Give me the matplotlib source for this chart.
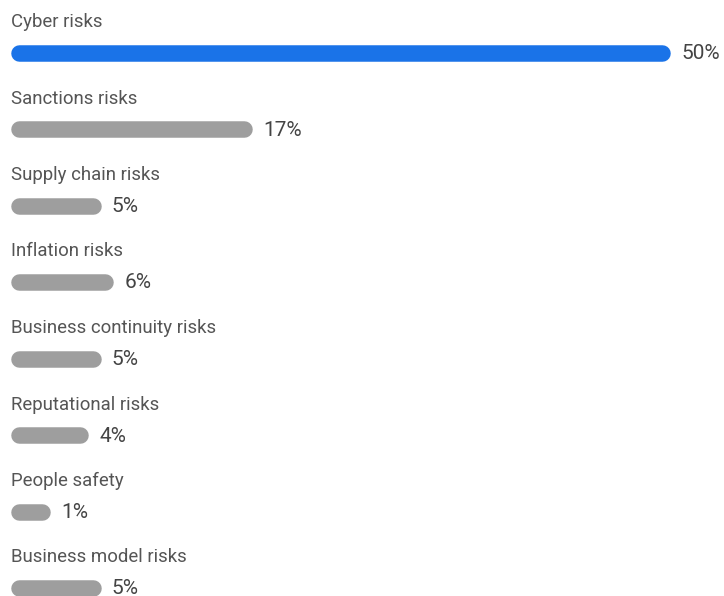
import matplotlib
matplotlib.use("Agg")
import matplotlib.pyplot as plt
from matplotlib.transforms import offset_copy, blended_transform_factory

categories = ["Cyber risks", "Sanctions risks", "Supply chain risks", "Inflation risks",
              "Business continuity risks", "Reputational risks", "People safety",
              "Business model risks"]
values = [50, 17, 5, 6, 5, 4, 1, 5]
value_labels = ["50%", "17%", "5%", "6%", "5%", "4%", "1%", "5%"]
highlight = "Cyber risks"

W, H, DPI = 724, 596, 100
fig = plt.figure(figsize=(W / DPI, H / DPI), dpi=DPI)
ax = fig.add_axes([0, 0, 1, 1])
ax.axis("off")

px_per_unit = 12.65
x0_px = 29.3
ax.set_xlim(-x0_px / px_per_unit, (W - x0_px) / px_per_unit)
ax.set_ylim(H, 0)  # y in pixels from top

row_step = 76.5
bar_y0 = 52.5
label_y0 = 22
bar_px = 16.5
lw_pt = bar_px * 72 / DPI
cap_start = -0.8

label_color = "#555555"
value_color = "#444444"
blue = "#1a73e8"
grey = "#9e9e9e"

label_tr = blended_transform_factory(fig.transFigure, ax.transData)
for i, (cat, v, lab) in enumerate(zip(categories, values, value_labels)):
    yb = bar_y0 + row_step * i
    yl = label_y0 + row_step * i
    color = blue if cat == highlight else grey
    ax.plot([cap_start, v], [yb, yb], color=color, lw=lw_pt, solid_capstyle="round")
    ax.text(11 / W, yl, cat, transform=label_tr, fontsize=13.4, family="Roboto",
            color=label_color, va="center", ha="left")
    tr = offset_copy(ax.transData, fig=fig, x=(bar_px / 2 + 11) * 72 / DPI, y=0, units="points")
    ax.text(v, yb + 1, lab, transform=tr, fontsize=15, family="Roboto",
            color=value_color, va="center", ha="left")

fig.savefig("out.png", dpi=DPI)
